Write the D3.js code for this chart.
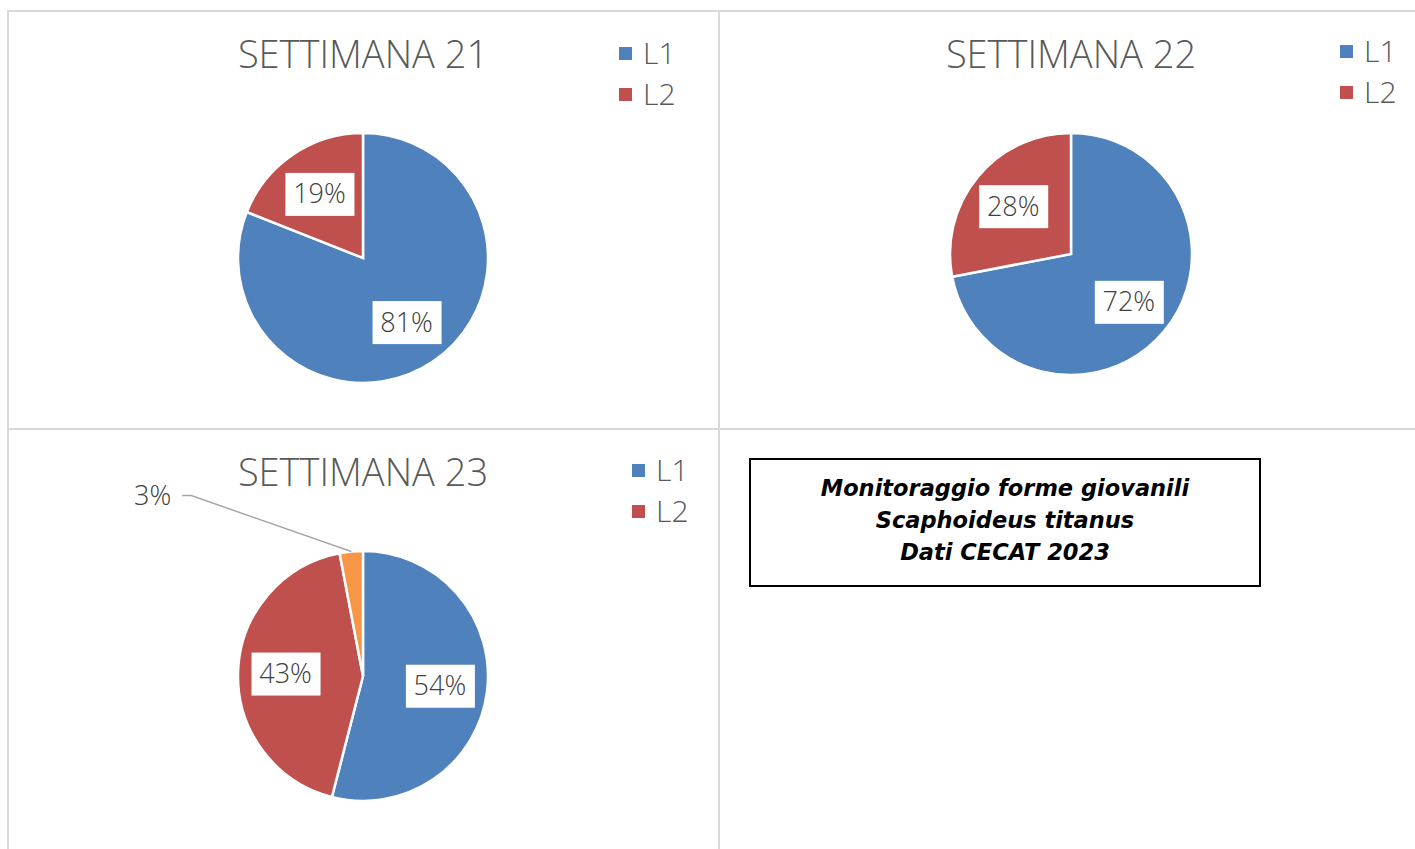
<!DOCTYPE html>
<html lang="en">
<head>
  <meta charset="UTF-8" />
  <title>Settimane</title>
  <script src="https://d3js.org/d3.v7.min.js" charset="utf-8"></script>
  <style type="text/css">
  body { margin: 0; background: #fff; }
  svg { font-family: "Open Sans", "Lato", sans-serif; }
  .title { fill: #595959; font-size: 38px; font-weight: 300; }
  .legend text { fill: #595959; font-size: 30px; font-weight: 300; }
  .lbl { fill: #404040; font-size: 27px; font-weight: 300; }
  .note { font-family: "DejaVu Sans", sans-serif; font-weight: bold; font-style: italic; font-size: 22.5px; fill: #000; }
  </style>
</head>
<body>
<script type="text/javascript">

// data
var weeks = ["SETTIMANA 21", "SETTIMANA 22", "SETTIMANA 23"];
var categories = ["L1", "L2", "L3"];
var legendKeys = ["L1", "L2"];
var week21 = [81, 19, 0];
var week22 = [72, 28, 0];
var week23 = [54, 43, 3];
var noteLines = ["Monitoraggio forme giovanili", "Scaphoideus titanus", "Dati CECAT 2023"];

var colors = d3.scaleOrdinal()
  .domain(categories)
  .range(["#4F81BD", "#C0504D", "#F79646"]);

var W = 1415, H = 849;

var svg = d3.select("body")
  .append("svg")
  .attr("width", W)
  .attr("height", H);

// panel frames (grey grid)
var grid = svg.append("g")
  .attr("stroke", "#d9d9d9")
  .attr("stroke-width", 2)
  .attr("fill", "none");
grid.append("rect").attr("x", 8).attr("y", 11).attr("width", 1420).attr("height", 850);
grid.append("line").attr("x1", 719).attr("x2", 719).attr("y1", 11).attr("y2", 860);
grid.append("line").attr("x1", 8).attr("x2", 1420).attr("y1", 429).attr("y2", 429);

var charts = [
  { title: weeks[0], values: week21, cx: 363, cy: 258, r: 125, titleY: 68, legX: 619, legY: 47 },
  { title: weeks[1], values: week22, cx: 1071, cy: 254, r: 121, titleY: 68, legX: 1340, legY: 45 },
  { title: weeks[2], values: week23, cx: 363, cy: 676, r: 125, titleY: 486, legX: 632, legY: 464 }
];

var pie = d3.pie().sort(null).value(function(d) { return d.v; });

charts.forEach(function(c) {
  var g = svg.append("g");

  g.append("text")
    .attr("class", "title")
    .attr("x", c.cx)
    .attr("y", c.titleY)
    .attr("text-anchor", "middle")
    .text(c.title);

  var rows = categories.map(function(k, i) { return { k: k, v: c.values[i] }; });
  var arcs = pie(rows).filter(function(d) { return d.data.v > 0; });
  var arc = d3.arc().innerRadius(0).outerRadius(c.r);
  var labelArc = d3.arc().innerRadius(c.r * 0.62).outerRadius(c.r * 0.62);

  var pg = g.append("g").attr("transform", "translate(" + c.cx + "," + c.cy + ")");

  pg.selectAll("path")
    .data(arcs)
    .enter().append("path")
    .attr("d", arc)
    .attr("fill", function(d) { return colors(d.data.k); })
    .attr("stroke", "#fff")
    .attr("stroke-width", 2.5);

  var total = d3.sum(rows, function(d) { return d.v; });

  arcs.forEach(function(d) {
    var pct = Math.round(d.data.v / total * 100) + "%";
    if (d.data.v / total >= 0.1) {
      var p = labelArc.centroid(d);
      pg.append("rect")
        .attr("x", p[0] - 34)
        .attr("y", p[1] - 21)
        .attr("width", 69)
        .attr("height", 43)
        .attr("fill", "#fff");
      pg.append("text")
        .attr("class", "lbl")
        .attr("x", p[0])
        .attr("y", p[1])
        .attr("dy", "0.35em")
        .attr("text-anchor", "middle")
        .text(pct);
    } else {
      // small slice: outside label with leader line
      var mid = (d.startAngle + d.endAngle) / 2;
      var ex = Math.sin(mid) * c.r, ey = -Math.cos(mid) * c.r;
      var kx = ex - 160, ky = ey - 56;
      pg.append("polyline")
        .attr("points", [[ex, ey], [kx, ky], [kx - 9, ky]].join(" "))
        .attr("fill", "none")
        .attr("stroke", "#a6a6a6")
        .attr("stroke-width", 1.5);
      pg.append("text")
        .attr("class", "lbl")
        .attr("x", kx - 20)
        .attr("y", ky)
        .attr("dy", "0.35em")
        .attr("text-anchor", "end")
        .text(pct);
    }
  });

  var legend = g.selectAll(".legend")
    .data(legendKeys)
    .enter().append("g")
    .attr("class", "legend")
    .attr("transform", function(d, i) { return "translate(" + c.legX + "," + (c.legY + i * 41) + ")"; });

  legend.append("rect")
    .attr("width", 13)
    .attr("height", 13)
    .attr("fill", function(d) { return colors(d); });

  legend.append("text")
    .attr("x", 24)
    .attr("y", 6.5)
    .attr("dy", "0.36em")
    .text(function(d) { return d; });
});

// note box
var note = svg.append("g");
note.append("rect")
  .attr("x", 750)
  .attr("y", 459)
  .attr("width", 510)
  .attr("height", 127)
  .attr("fill", "#fff")
  .attr("stroke", "#000")
  .attr("stroke-width", 2);
note.selectAll("text.note")
  .data(noteLines)
  .enter().append("text")
  .attr("class", "note")
  .attr("x", 1005)
  .attr("y", function(d, i) { return 496 + i * 32; })
  .attr("text-anchor", "middle")
  .text(function(d) { return d; });

</script>
</body>
</html>
